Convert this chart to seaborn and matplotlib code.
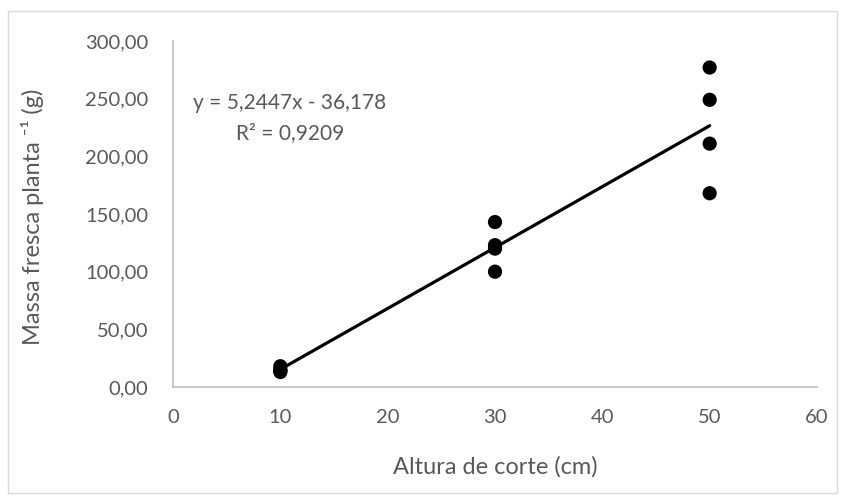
import numpy as np
import pandas as pd
import matplotlib
matplotlib.use("Agg")
import matplotlib.pyplot as plt
import seaborn as sns
from matplotlib.patches import Rectangle

altura = [10, 10, 10, 10, 30, 30, 30, 30, 50, 50, 50, 50]
massa = [18, 15, 13, 14, 143, 123, 120, 100, 277, 249, 211, 168]
x_ticks = [0, 10, 20, 30, 40, 50, 60]
y_ticks = [0, 50, 100, 150, 200, 250, 300]
equation = "y = 5,2447x - 36,178"
r2_text = "R² = 0,9209"
xlabel = "Altura de corte (cm)"
ylabel = "Massa fresca planta ⁻¹ (g)"

df = pd.DataFrame({"altura": altura, "massa": massa})

sns.set_theme(style="white")
plt.rcParams['font.family'] = ['Lato', 'DejaVu Sans']
gray = "#595959"

fig = plt.figure(figsize=(8.45, 5.01), dpi=100)
ax = fig.add_axes([173/845, 1-387/501, (817-173)/845, (387-41)/501])

sns.regplot(data=df, x="altura", y="massa", ax=ax, ci=None,
            scatter_kws=dict(s=105, color="black", edgecolor="none", alpha=1, zorder=3),
            line_kws=dict(color="black", lw=2.3, zorder=2))

ax.set_xlim(0, 60)
ax.set_ylim(0, 300)
ax.set_xticks(x_ticks)
ax.set_yticks(y_ticks)
ax.set_xticklabels([str(v) for v in x_ticks])
ax.set_yticklabels([f"{v:.2f}".replace(".", ",") for v in y_ticks])
ax.tick_params(axis="both", length=0, labelsize=14.5, colors=gray)
ax.tick_params(axis="y", pad=18)
ax.tick_params(axis="x", pad=16)

for side in ["top", "right"]:
    ax.spines[side].set_visible(False)
for side in ["left", "bottom"]:
    ax.spines[side].set_color("#bfbfbf")
    ax.spines[side].set_linewidth(1.2)

ax.set_xlabel("")
ax.set_ylabel("")
fig.text(495/845, 1-467/501, xlabel, ha="center", va="center", fontsize=17, color=gray)
fig.text(33/845, 1-217/501, ylabel, ha="center", va="center", rotation=90, fontsize=17, color=gray)

fig.text(290/845, 1-103/501, equation, ha="center", va="center", fontsize=15, color=gray)
fig.text(290/845, 1-133/501, r2_text, ha="center", va="center", fontsize=15, color=gray)

fig.patches.append(Rectangle((8/845, 1-493/501), (837-8)/845, (493-11)/501,
                             transform=fig.transFigure, fill=False,
                             edgecolor="#d9d9d9", lw=1.0))

fig.savefig("out.png", dpi=100, facecolor="white")
